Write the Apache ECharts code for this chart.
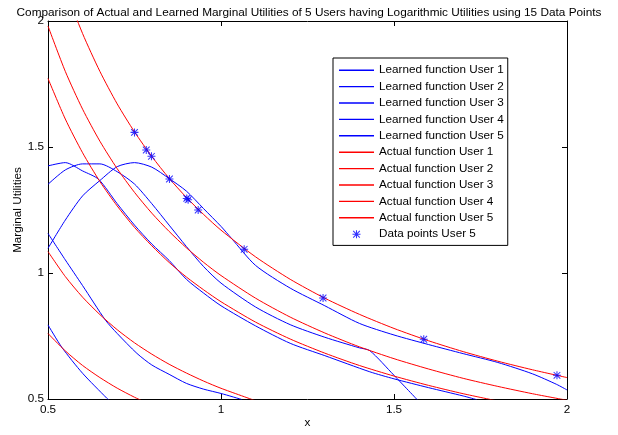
<!DOCTYPE html>
<html>
<head>
<meta charset="utf-8">
<script src="https://cdn.jsdelivr.net/npm/echarts@6/dist/echarts.min.js"></script>
<style>html,body{margin:0;padding:0;background:#fff}#c{width:618px;height:435px}</style>
</head>
<body>
<div id="c"></div>
<script>
// ---- data ----
const titleText = 'Comparison of Actual and Learned Marginal Utilities of 5 Users having Logarithmic Utilities using 15 Data Points';
const axisMin = 0.5, axisMax = 2, axisStep = 0.5;

// Learned functions (blue)
const learned1X = [0.5, 0.54, 0.6, 0.67, 0.68];
const learned1Y = [0.794, 0.705, 0.602, 0.503, 0.49];
const learned2X = [0.5, 0.55, 0.6, 0.666, 0.7, 0.757, 0.8, 0.85, 0.9, 0.95, 1.0, 1.06];
const learned2Y = [1.157, 1.052, 0.95, 0.813, 0.76, 0.681, 0.635, 0.598, 0.562, 0.539, 0.522, 0.498];
const learned3X = [0.5, 0.55, 0.6, 0.646, 0.7, 0.75, 0.8, 0.85, 0.9, 0.95, 1.0, 1.1, 1.2, 1.3, 1.43, 1.5, 1.6, 1.7, 1.74];
const learned3Y = [1.425, 1.438, 1.405, 1.372, 1.275, 1.19, 1.115, 1.05, 0.975, 0.92, 0.87, 0.79, 0.721, 0.672, 0.608, 0.58, 0.545, 0.512, 0.497];
const learned4X = [0.5, 0.55, 0.6, 0.65, 0.7, 0.75, 0.8, 0.85, 0.9, 0.95, 1.0, 1.1, 1.2, 1.3, 1.4, 1.43, 1.5, 1.57];
const learned4Y = [1.352, 1.409, 1.433, 1.433, 1.402, 1.353, 1.275, 1.19, 1.105, 1.025, 0.96, 0.865, 0.795, 0.745, 0.703, 0.692, 0.594, 0.493];
const learned5X = [0.5, 0.55, 0.6, 0.65, 0.7, 0.75, 0.8, 0.85, 0.9, 0.95, 1.0, 1.03, 1.1, 1.2, 1.3, 1.4, 1.5, 1.6, 1.7, 1.8, 1.9, 1.97, 2.0];
const learned5Y = [1.098, 1.21, 1.306, 1.367, 1.422, 1.438, 1.42, 1.375, 1.325, 1.255, 1.185, 1.138, 1.03, 0.94, 0.87, 0.8, 0.754, 0.716, 0.68, 0.645, 0.6, 0.558, 0.536];

// Actual functions (red)
const actualX = [0.5, 0.55, 0.6, 0.65, 0.7, 0.75, 0.8, 0.85, 0.9, 0.95, 1.0, 1.1, 1.2, 1.3, 1.4, 1.5, 1.6, 1.7, 1.8, 1.9, 2.0];
const actual1Y = [0.76, 0.691, 0.633, 0.585, 0.543, 0.507, 0.475];
const actual2Y = [1.085, 0.986, 0.904, 0.835, 0.775, 0.723, 0.678, 0.638, 0.603, 0.571, 0.5425, 0.493];
const actual3Y = [1.772, 1.611, 1.477, 1.363, 1.266, 1.181, 1.108, 1.042, 0.984, 0.933, 0.886, 0.805, 0.738, 0.682, 0.633, 0.591, 0.554, 0.521, 0.492];
const actual4Y = [1.98, 1.8, 1.65, 1.523, 1.414, 1.32, 1.2375, 1.165, 1.1, 1.042, 0.99, 0.9, 0.825, 0.762, 0.707, 0.66, 0.619, 0.582, 0.55, 0.521, 0.495];
const actual5Y = [2.34, 2.127, 1.95, 1.8, 1.671, 1.56, 1.4625, 1.376, 1.3, 1.232, 1.17, 1.064, 0.975, 0.9, 0.836, 0.78, 0.731, 0.688, 0.65, 0.616, 0.585];

// Data points user 5
const pointsX = [0.75, 0.784, 0.799, 0.851, 0.901, 0.905, 0.934, 1.067, 1.295, 1.586, 1.971];
const pointsY = [1.558, 1.488, 1.463, 1.373, 1.296, 1.291, 1.250, 1.094, 0.901, 0.737, 0.594];

const learnedNames = ['Learned function User 1','Learned function User 2','Learned function User 3','Learned function User 4','Learned function User 5'];
const actualNames = ['Actual function User 1','Actual function User 2','Actual function User 3','Actual function User 4','Actual function User 5'];
const pointsName = 'Data points User 5';

// ---- build ----
const zip = (xs, ys) => ys.map((y, i) => [xs[i], y]);
const learned = [zip(learned1X, learned1Y), zip(learned2X, learned2Y), zip(learned3X, learned3Y), zip(learned4X, learned4Y), zip(learned5X, learned5Y)];
const actual = [actual1Y, actual2Y, actual3Y, actual4Y, actual5Y].map(ys => zip(actualX, ys));

const FONT = 'Liberation Sans, Arial, sans-serif';
const FS = 11.7;
const asterisk = 'path://M8.7,0 L11.3,0 L11.3,20 L8.7,20 Z M0,8.7 L20,8.7 L20,11.3 L0,11.3 Z M2.6,0.8 L19.2,17.4 L17.4,19.2 L0.8,2.6 Z M17.4,0.8 L19.2,2.6 L2.6,19.2 L0.8,17.4 Z';
const lineIcon = 'path://M0,0 L35,0 L35,1.4 L0,1.4 Z';

const lineSeries = (name, data, color) => ({
  name, type: 'line', data, symbol: 'none', showSymbol: false,
  smooth: 0.25, clip: true,
  lineStyle: { color, width: 1 }, itemStyle: { color },
  emphasis: { disabled: true }, animation: false, z: 2
});

const series = [];
learned.forEach((d, i) => series.push(lineSeries(learnedNames[i], d, '#0000ff')));
actual.forEach((d, i) => series.push(lineSeries(actualNames[i], d, '#ff0000')));
series.push({
  name: pointsName, type: 'scatter', data: zip(pointsX, pointsY),
  symbol: asterisk, symbolSize: 8, itemStyle: { color: '#0000ff' },
  emphasis: { disabled: true }, animation: false, z: 3
});

const baseAxis = {
  type: 'value', min: axisMin, max: axisMax, interval: axisStep,
  splitLine: { show: false },
  axisLine: { show: true, onZero: false, lineStyle: { color: '#000', width: 1 } },
  axisTick: { show: true, inside: true, length: 5, lineStyle: { color: '#000' } }
};

const legendData = learnedNames.concat(actualNames).map(n => ({ name: n, icon: lineIcon }))
  .concat([{ name: pointsName }]);

const option = {
  backgroundColor: '#fff',
  animation: false,
  title: {
    text: titleText, left: 'center', top: 2,
    textStyle: { fontFamily: FONT, fontSize: 11.8, fontWeight: 'normal', color: '#000' }
  },
  grid: { left: 48, right: 51, top: 21, bottom: 36, containLabel: false },
  xAxis: [
    Object.assign({}, baseAxis, {
      position: 'bottom', name: 'x', nameLocation: 'middle', nameGap: 18, nameMoveOverlap: false,
      nameTextStyle: { fontFamily: FONT, fontSize: FS, color: '#000' },
      axisLabel: { fontFamily: FONT, fontSize: FS, color: '#000', margin: 5, formatter: v => String(v) }
    }),
    Object.assign({}, baseAxis, { position: 'top', axisLabel: { show: false } })
  ],
  yAxis: [
    Object.assign({}, baseAxis, {
      position: 'left', name: 'Marginal Utilities', nameLocation: 'middle', nameGap: 24, nameMoveOverlap: false,
      nameTextStyle: { fontFamily: FONT, fontSize: FS, color: '#000' },
      axisLabel: { fontFamily: FONT, fontSize: FS, color: '#000', margin: 4, formatter: v => String(v) }
    }),
    Object.assign({}, baseAxis, { position: 'right', axisLabel: { show: false } })
  ],
  legend: {
    orient: 'vertical', left: 333, top: 58,
    padding: [4, 4, 3, 6],
    itemWidth: 35, itemHeight: 8, itemGap: 0,
    backgroundColor: '#fff', borderColor: '#000', borderWidth: 1,
    selectedMode: false,
    itemStyle: { borderWidth: 0 },
    textStyle: { fontFamily: FONT, fontSize: FS, color: '#000', lineHeight: 16.4 },
    data: legendData,
    z: 10
  },
  series
};

const chart = echarts.init(document.getElementById('c'), null, { renderer: 'canvas' });
chart.setOption(option);
</script>
</body>
</html>
